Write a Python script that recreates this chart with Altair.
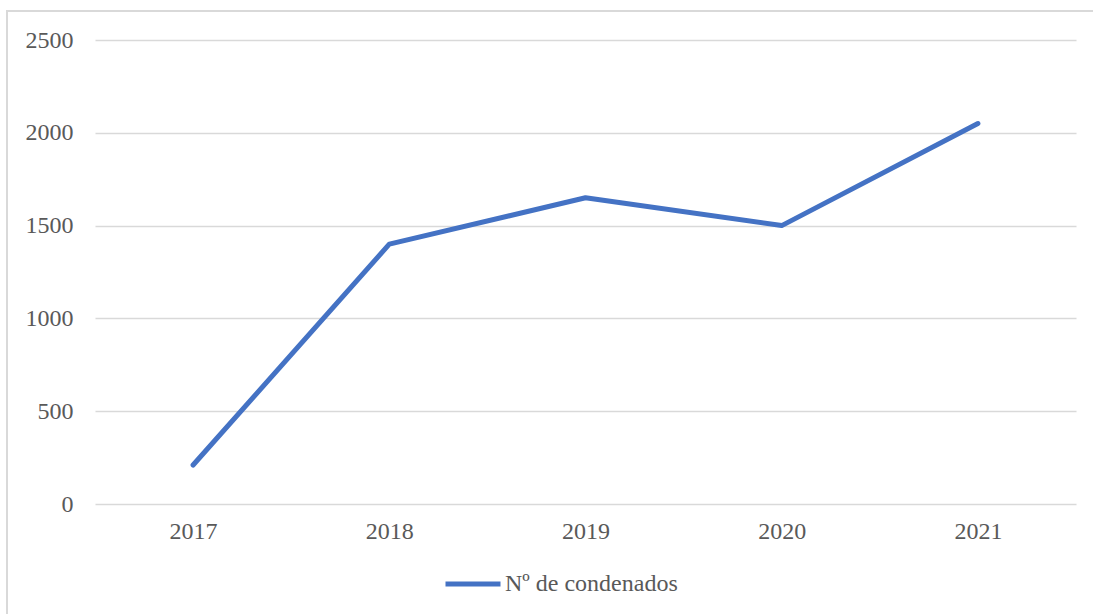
import altair as alt
import pandas as pd

# Convicted persons per year
years = ["2017", "2018", "2019", "2020", "2021"]
condenados = [210, 1400, 1650, 1500, 2050]
series_name = "Nº de condenados"

df = pd.DataFrame({"year": years, "value": condenados, "serie": [series_name] * len(years)})

FONT = "Liberation Serif"
TEXT = "#595959"
GRID = "#d9d9d9"
BLUE = "#4472C4"

line = alt.Chart(df).mark_line(strokeWidth=5, strokeCap="round", strokeJoin="round").encode(
    x=alt.X("year:O", sort=years, title=None,
            scale=alt.Scale(type="point", padding=0.5),
            axis=alt.Axis(labelAngle=0, ticks=False, domain=False, grid=False,
                          labelPadding=15)),
    y=alt.Y("value:Q", title=None,
            scale=alt.Scale(domain=[0, 2500], nice=False),
            axis=alt.Axis(values=[0, 500, 1000, 1500, 2000, 2500], format="d",
                          ticks=False, domain=False,
                          grid=True, gridColor=GRID, gridWidth=1.5, labelPadding=22)),
    color=alt.Color("serie:N", title=None,
                    scale=alt.Scale(domain=[series_name], range=[BLUE]),
                    legend=alt.Legend(orient="none", legendX=348, legendY=514,
                                      symbolType="stroke", symbolSize=3025,
                                      symbolStrokeWidth=5, labelOffset=2, labelLimit=400)),
)

# outer chart frame
frame = alt.Chart(df).mark_rect(fill=None, stroke=GRID, strokeWidth=1.5).encode(
    x=alt.value(-88), x2=alt.value(1010), y=alt.value(-29), y2=alt.value(600)
)

chart = alt.layer(frame, line).properties(
    width=981, height=464,
    autosize=alt.AutoSizeParams(type="none"),
    padding={"left": 95, "top": 40, "right": 17, "bottom": 110},
).configure(font=FONT).configure_view(stroke=None).configure_axis(
    labelFont=FONT, labelFontSize=24, labelColor=TEXT
).configure_legend(
    labelFont=FONT, labelFontSize=24, labelColor=TEXT
)

chart.save("out.html", embed_options={"renderer": "svg", "actions": False})
